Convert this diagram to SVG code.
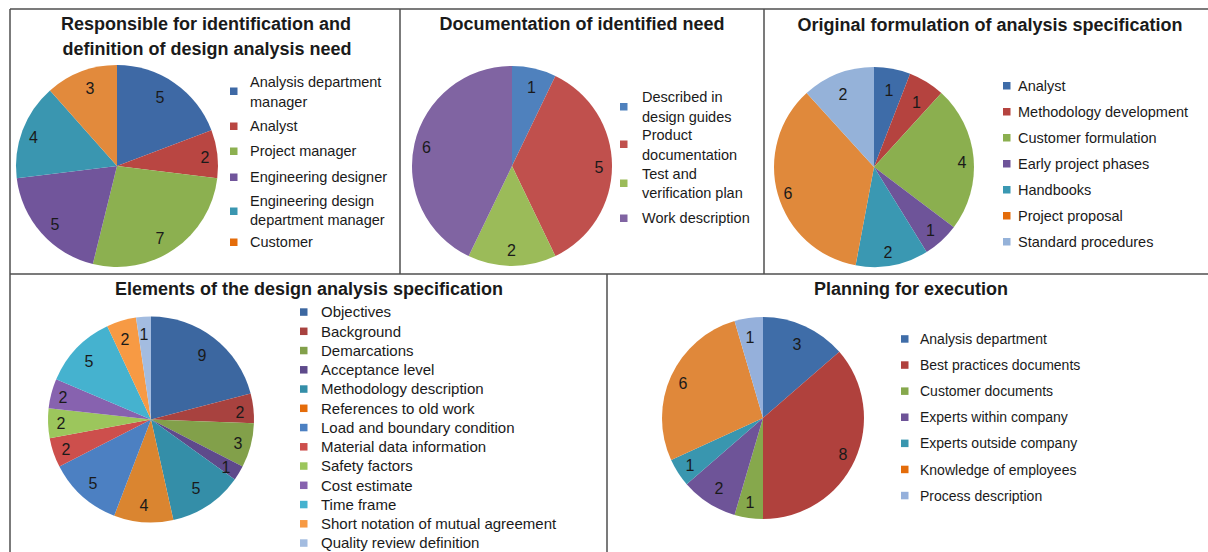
<svg xmlns="http://www.w3.org/2000/svg" width="1208" height="552" viewBox="0 0 1208 552">
<style>
text{font-family:"Liberation Sans",Arial,sans-serif;fill:#1a1a1a}
.t{font-size:18px;font-weight:bold;text-anchor:middle}
.n{font-size:16px;text-anchor:middle}
.l{font-size:14.5px}
.l4{font-size:15px}
.l5{font-size:14px}
.frame{stroke:#505050;stroke-width:1.5;fill:none}
</style>
<rect width="1208" height="552" fill="#fff"/>
<g id="frames" class="frame">
<path d="M10,9 H1208 M10,9 V552 M400,9 V274 M764,9 V274 M10,274 H1208 M607,274 V552"/>
</g>
<g id="chart-responsible">
<text class="t" x="206" y="30">Responsible for identification and</text>
<text class="t" x="207" y="55">definition of design analysis need</text>
<path fill="#3E69A5" d="M117,166 L117,65 A101,101 0 0 1 211.44,130.18 Z"/>
<path fill="#B94642" d="M117,166 L211.44,130.18 A101,101 0 0 1 217.26,178.17 Z"/>
<path fill="#8CB050" d="M117,166 L217.26,178.17 A101,101 0 0 1 92.82,264.06 Z"/>
<path fill="#71559B" d="M117,166 L92.82,264.06 A101,101 0 0 1 16.74,178.17 Z"/>
<path fill="#3A96B0" d="M117,166 L16.74,178.17 A101,101 0 0 1 50.01,90.41 Z"/>
<path fill="#E28A3C" d="M117,166 L50.01,90.41 A101,101 0 0 1 117,65 Z"/>
<text class="n" x="160" y="102.5">5</text>
<text class="n" x="205" y="162.5">2</text>
<text class="n" x="160" y="244">7</text>
<text class="n" x="55" y="230">5</text>
<text class="n" x="33.5" y="142.5">4</text>
<text class="n" x="90" y="94">3</text>
<rect x="230" y="87.5" width="7.5" height="7.5" fill="#3E69A5"/>
<rect x="230" y="122.5" width="7.5" height="7.5" fill="#B94642"/>
<rect x="230" y="147.5" width="7.5" height="7.5" fill="#8CB050"/>
<rect x="230" y="173.5" width="7.5" height="7.5" fill="#71559B"/>
<rect x="230" y="207.5" width="7.5" height="7.5" fill="#3A96B0"/>
<rect x="230" y="238.5" width="7.5" height="7.5" fill="#E46C0A"/>
<text class="l" x="250" y="87">Analysis department</text>
<text class="l" x="250" y="107">manager</text>
<text class="l" x="250" y="131">Analyst</text>
<text class="l" x="250" y="156">Project manager</text>
<text class="l" x="250" y="182">Engineering designer</text>
<text class="l" x="250" y="206">Engineering design</text>
<text class="l" x="250" y="225">department manager</text>
<text class="l" x="250" y="247">Customer</text>
</g>
<g id="chart-documentation">
<text class="t" x="582" y="30">Documentation of identified need</text>
<path fill="#4F81BD" d="M512,166 L512,66 A100,100 0 0 1 555.39,75.90 Z"/>
<path fill="#C0504D" d="M512,166 L555.39,75.90 A100,100 0 0 1 555.39,256.10 Z"/>
<path fill="#9BBB59" d="M512,166 L555.39,256.10 A100,100 0 0 1 468.61,256.10 Z"/>
<path fill="#8064A2" d="M512,166 L468.61,256.10 A100,100 0 0 1 512,66 Z"/>
<text class="n" x="531.5" y="93">1</text>
<text class="n" x="599" y="172.5">5</text>
<text class="n" x="511.5" y="256">2</text>
<text class="n" x="426.5" y="152.5">6</text>
<rect x="620" y="103" width="7.5" height="7.5" fill="#4F81BD"/>
<rect x="620" y="140.5" width="7.5" height="7.5" fill="#C0504D"/>
<rect x="620" y="179.5" width="7.5" height="7.5" fill="#9BBB59"/>
<rect x="620" y="214.5" width="7.5" height="7.5" fill="#8064A2"/>
<text class="l" x="642" y="102">Described in</text>
<text class="l" x="642" y="121.5">design guides</text>
<text class="l" x="642" y="140">Product</text>
<text class="l" x="642" y="159.5">documentation</text>
<text class="l" x="642" y="178.5">Test and</text>
<text class="l" x="642" y="197.5">verification plan</text>
<text class="l" x="642" y="222.5">Work description</text>
</g>
<g id="chart-formulation">
<text class="t" x="990" y="30.5">Original formulation of analysis specification</text>
<path fill="#3E6CA8" d="M874,167 L874,67 A100,100 0 0 1 910.12,73.75 Z"/>
<path fill="#B5433F" d="M874,167 L910.12,73.75 A100,100 0 0 1 941.37,93.10 Z"/>
<path fill="#8BAF4F" d="M874,167 L941.37,93.10 A100,100 0 0 1 953.80,227.26 Z"/>
<path fill="#6E5499" d="M874,167 L953.80,227.26 A100,100 0 0 1 926.64,252.02 Z"/>
<path fill="#3A98B2" d="M874,167 L926.64,252.02 A100,100 0 0 1 855.62,265.30 Z"/>
<path fill="#E0893B" d="M874,167 L855.62,265.30 A100,100 0 0 1 806.63,93.10 Z"/>
<path fill="#95B2D9" d="M874,167 L806.63,93.10 A100,100 0 0 1 874,67 Z"/>
<text class="n" x="889" y="96">1</text>
<text class="n" x="916.5" y="108">1</text>
<text class="n" x="962" y="167.5">4</text>
<text class="n" x="930.5" y="236">1</text>
<text class="n" x="888" y="257.5">2</text>
<text class="n" x="788" y="199">6</text>
<text class="n" x="843" y="100">2</text>
<rect x="1003" y="82" width="7.5" height="7.5" fill="#3E6CA8"/>
<rect x="1003" y="108" width="7.5" height="7.5" fill="#B5433F"/>
<rect x="1003" y="134" width="7.5" height="7.5" fill="#8BAF4F"/>
<rect x="1003" y="160" width="7.5" height="7.5" fill="#6E5499"/>
<rect x="1003" y="186" width="7.5" height="7.5" fill="#3A98B2"/>
<rect x="1003" y="212" width="7.5" height="7.5" fill="#E46C0A"/>
<rect x="1003" y="238" width="7.5" height="7.5" fill="#95B2D9"/>
<text class="l" x="1018" y="91">Analyst</text>
<text class="l" x="1018" y="117">Methodology development</text>
<text class="l" x="1018" y="143">Customer formulation</text>
<text class="l" x="1018" y="169">Early project phases</text>
<text class="l" x="1018" y="195">Handbooks</text>
<text class="l" x="1018" y="221">Project proposal</text>
<text class="l" x="1018" y="247">Standard procedures</text>
</g>
<g id="chart-elements">
<text class="t" x="309" y="295">Elements of the design analysis specification</text>
<path fill="#3C67A0" d="M151,419.5 L151,316.5 A103,103 0 0 1 250.65,393.45 Z"/>
<path fill="#A8423F" d="M151,419.5 L250.65,393.45 A103,103 0 0 1 253.93,423.26 Z"/>
<path fill="#82A04A" d="M151,419.5 L253.93,423.26 A103,103 0 0 1 242.60,466.60 Z"/>
<path fill="#5E4A8B" d="M151,419.5 L242.60,466.60 A103,103 0 0 1 234.77,479.43 Z"/>
<path fill="#348EA8" d="M151,419.5 L234.77,479.43 A103,103 0 0 1 173.40,520.04 Z"/>
<path fill="#DA8530" d="M151,419.5 L173.40,520.04 A103,103 0 0 1 114.21,515.70 Z"/>
<path fill="#4C80C2" d="M151,419.5 L114.21,515.70 A103,103 0 0 1 59.40,466.60 Z"/>
<path fill="#CD4F4C" d="M151,419.5 L59.40,466.60 A103,103 0 0 1 49.71,438.21 Z"/>
<path fill="#9CC65C" d="M151,419.5 L49.71,438.21 A103,103 0 0 1 48.62,408.23 Z"/>
<path fill="#8762AF" d="M151,419.5 L48.62,408.23 A103,103 0 0 1 56.20,379.22 Z"/>
<path fill="#45B2CF" d="M151,419.5 L56.20,379.22 A103,103 0 0 1 107.28,326.24 Z"/>
<path fill="#F79A44" d="M151,419.5 L107.28,326.24 A103,103 0 0 1 136.00,317.60 Z"/>
<path fill="#A3BCE0" d="M151,419.5 L136.00,317.60 A103,103 0 0 1 151,316.5 Z"/>
<text class="n" x="202" y="361">9</text>
<text class="n" x="240" y="418">2</text>
<text class="n" x="238" y="449">3</text>
<text class="n" x="226" y="473">1</text>
<text class="n" x="196" y="494">5</text>
<text class="n" x="144" y="511">4</text>
<text class="n" x="93" y="489">5</text>
<text class="n" x="66" y="455">2</text>
<text class="n" x="61" y="429">2</text>
<text class="n" x="63" y="403">2</text>
<text class="n" x="89" y="367">5</text>
<text class="n" x="125" y="345">2</text>
<text class="n" x="144" y="340">1</text>
<rect x="300" y="308.3" width="7.5" height="7.5" fill="#3C67A0"/>
<rect x="300" y="327.55" width="7.5" height="7.5" fill="#A8423F"/>
<rect x="300" y="346.8" width="7.5" height="7.5" fill="#82A04A"/>
<rect x="300" y="366.05" width="7.5" height="7.5" fill="#5E4A8B"/>
<rect x="300" y="385.3" width="7.5" height="7.5" fill="#348EA8"/>
<rect x="300" y="404.55" width="7.5" height="7.5" fill="#E46C0A"/>
<rect x="300" y="423.8" width="7.5" height="7.5" fill="#4C80C2"/>
<rect x="300" y="443.05" width="7.5" height="7.5" fill="#CD4F4C"/>
<rect x="300" y="462.3" width="7.5" height="7.5" fill="#9CC65C"/>
<rect x="300" y="481.55" width="7.5" height="7.5" fill="#8762AF"/>
<rect x="300" y="500.8" width="7.5" height="7.5" fill="#45B2CF"/>
<rect x="300" y="520.05" width="7.5" height="7.5" fill="#F79A44"/>
<rect x="300" y="539.3" width="7.5" height="7.5" fill="#A3BCE0"/>
<text class="l4" x="321" y="317.3">Objectives</text>
<text class="l4" x="321" y="336.55">Background</text>
<text class="l4" x="321" y="355.8">Demarcations</text>
<text class="l4" x="321" y="375.05">Acceptance level</text>
<text class="l4" x="321" y="394.3">Methodology description</text>
<text class="l4" x="321" y="413.55">References to old work</text>
<text class="l4" x="321" y="432.8">Load and boundary condition</text>
<text class="l4" x="321" y="452.05">Material data information</text>
<text class="l4" x="321" y="471.3">Safety factors</text>
<text class="l4" x="321" y="490.55">Cost estimate</text>
<text class="l4" x="321" y="509.8">Time frame</text>
<text class="l4" x="321" y="529.05">Short notation of mutual agreement</text>
<text class="l4" x="321" y="548.3">Quality review definition</text>
</g>
<g id="chart-planning">
<text class="t" x="911" y="295">Planning for execution</text>
<path fill="#3F6DA8" d="M763,418 L763,317 A101,101 0 0 1 839.33,351.86 Z"/>
<path fill="#B0413D" d="M763,418 L839.33,351.86 A101,101 0 0 1 763,519 Z"/>
<path fill="#86A84C" d="M763,418 L763,519 A101,101 0 0 1 734.54,514.91 Z"/>
<path fill="#6E5498" d="M763,418 L734.54,514.91 A101,101 0 0 1 686.67,484.14 Z"/>
<path fill="#3996AF" d="M763,418 L686.67,484.14 A101,101 0 0 1 671.12,459.96 Z"/>
<path fill="#E0883A" d="M763,418 L671.12,459.96 A101,101 0 0 1 734.54,321.09 Z"/>
<path fill="#95B0DB" d="M763,418 L734.54,321.09 A101,101 0 0 1 763,317 Z"/>
<text class="n" x="797" y="350">3</text>
<text class="n" x="843" y="460">8</text>
<text class="n" x="750" y="508">1</text>
<text class="n" x="719" y="494">2</text>
<text class="n" x="690" y="471">1</text>
<text class="n" x="683" y="389">6</text>
<text class="n" x="750" y="343">1</text>
<rect x="901" y="335.2" width="7.5" height="7.5" fill="#3F6DA8"/>
<rect x="901" y="361.3" width="7.5" height="7.5" fill="#B0413D"/>
<rect x="901" y="387.4" width="7.5" height="7.5" fill="#86A84C"/>
<rect x="901" y="413.5" width="7.5" height="7.5" fill="#6E5498"/>
<rect x="901" y="439.6" width="7.5" height="7.5" fill="#3996AF"/>
<rect x="901" y="465.7" width="7.5" height="7.5" fill="#E46C0A"/>
<rect x="901" y="491.8" width="7.5" height="7.5" fill="#95B0DB"/>
<text class="l5" x="920" y="344">Analysis department</text>
<text class="l5" x="920" y="370.1">Best practices documents</text>
<text class="l5" x="920" y="396.2">Customer documents</text>
<text class="l5" x="920" y="422.3">Experts within company</text>
<text class="l5" x="920" y="448.4">Experts outside company</text>
<text class="l5" x="920" y="474.5">Knowledge of employees</text>
<text class="l5" x="920" y="500.6">Process description</text>
</g>
</svg>
